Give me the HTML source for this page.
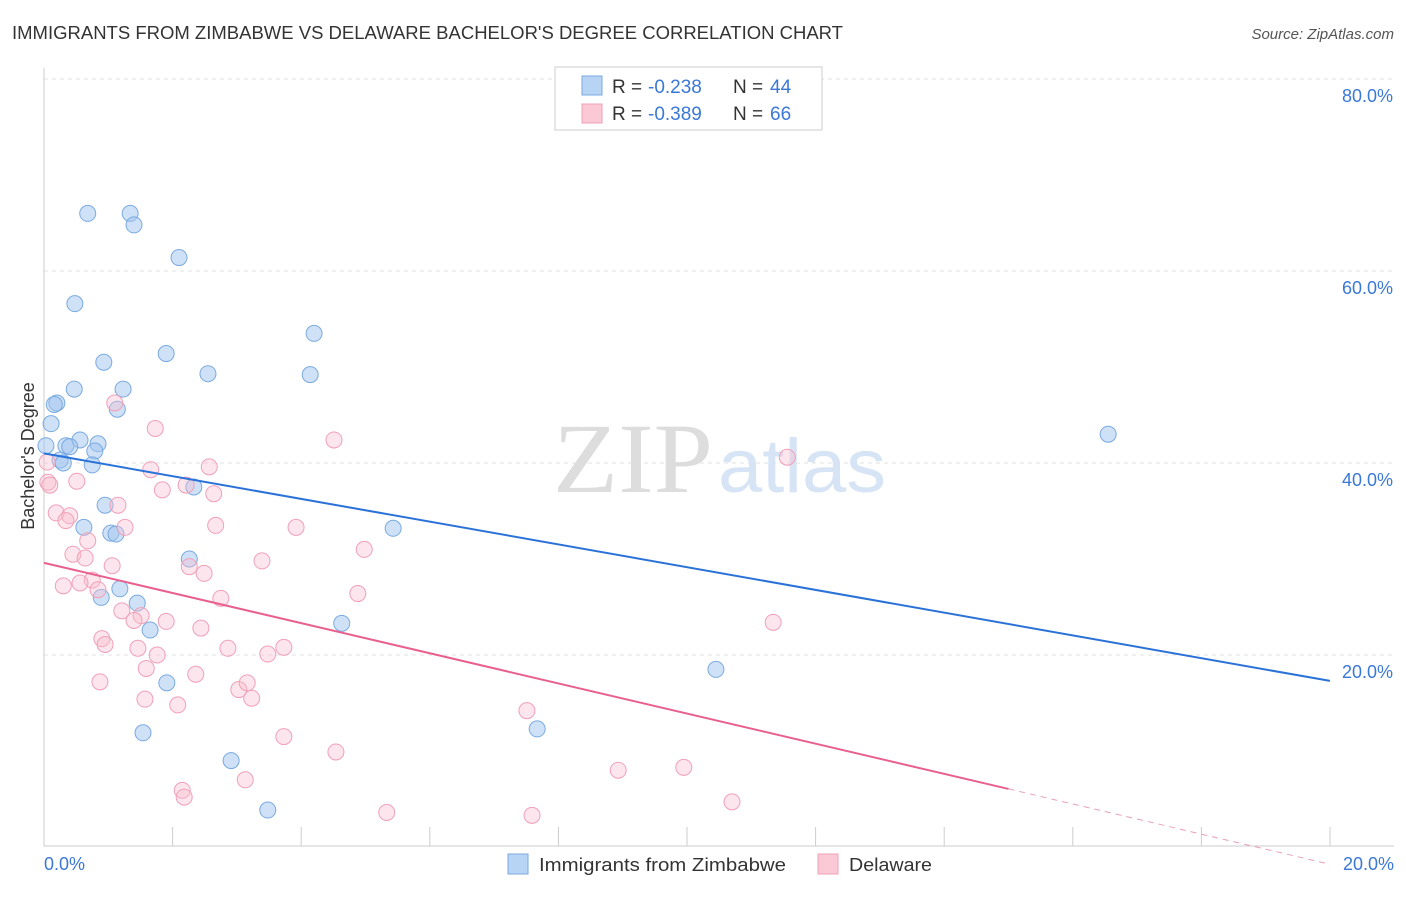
<!DOCTYPE html>
<html><head><meta charset="utf-8"><style>
body{margin:0;background:#fff;font-family:"Liberation Sans",sans-serif;}
</style></head><body>
<svg id="c" width="1406" height="892" xmlns="http://www.w3.org/2000/svg">
<text x="12" y="39" font-size="18" fill="#333" textLength="831" lengthAdjust="spacingAndGlyphs">IMMIGRANTS FROM ZIMBABWE VS DELAWARE BACHELOR'S DEGREE CORRELATION CHART</text>
<text x="1394" y="39" font-size="15" fill="#555" font-style="italic" text-anchor="end">Source: ZipAtlas.com</text>
<g id="grid"></g>
<text x="553" y="492" font-size="100" fill="#ddd" font-family="Liberation Serif" textLength="160" lengthAdjust="spacingAndGlyphs">ZIP</text>
<text x="718" y="492" font-size="76" fill="#d6e4f5" textLength="168" lengthAdjust="spacingAndGlyphs">atlas</text>
<g id="axes"></g>
<text transform="translate(34,456) rotate(-90)" font-size="18" fill="#333" text-anchor="middle">Bachelor's Degree</text>
<g id="marks"></g>
<g>
<rect x="555" y="67" width="267" height="63" fill="#fff" stroke="#ccc"/>
<rect x="582" y="76" width="20" height="19" fill="#b8d4f5" stroke="#7aaae0"/>
<rect x="582" y="104" width="20" height="19" fill="#fbc8d6" stroke="#f0a0b8"/>
<text x="612" y="93" font-size="19" fill="#333">R =</text><text x="648" y="93" font-size="19" fill="#3a78d8">-0.238</text>
<text x="733" y="93" font-size="19" fill="#333">N =</text><text x="770" y="93" font-size="19" fill="#3a78d8">44</text>
<text x="612" y="120" font-size="19" fill="#333">R =</text><text x="648" y="120" font-size="19" fill="#3a78d8">-0.389</text>
<text x="733" y="120" font-size="19" fill="#333">N =</text><text x="770" y="120" font-size="19" fill="#3a78d8">66</text>
</g>
<g>
<rect x="508" y="854" width="20" height="20" fill="#b8d4f5" stroke="#7aaae0"/>
<text x="539" y="871" font-size="18" fill="#333" textLength="247" lengthAdjust="spacingAndGlyphs">Immigrants from Zimbabwe</text>
<rect x="818" y="854" width="20" height="20" fill="#fbc8d6" stroke="#f0a0b8"/>
<text x="849" y="871" font-size="18" fill="#333" textLength="83" lengthAdjust="spacingAndGlyphs">Delaware</text>
</g>
</svg>
<script>
const blueX=[0.68,1.34,1.40,2.10,0.48,1.90,0.93,2.55,4.20,4.14,0.47,1.23,0.20,0.16,1.14,0.11,0.56,0.84,0.34,0.40,0.79,0.25,0.30,0.75,0.03,0.95,0.62,1.04,1.12,5.43,2.26,2.33,1.18,0.89,1.45,1.65,4.63,1.91,1.54,2.91,3.48,7.67,10.45,16.55];
const blueY=[66.0,66.0,64.8,61.4,56.6,51.4,50.5,49.3,53.5,49.2,47.7,47.7,46.25,46.1,45.6,44.1,42.4,42.0,41.8,41.7,41.25,40.3,40.0,39.8,41.8,35.6,33.3,32.7,32.6,33.2,30.0,37.5,26.9,26.0,25.4,22.6,23.3,17.1,11.9,9.0,3.85,12.3,18.5,43.0];
const pinkX=[1.10,1.73,4.51,11.56,1.66,2.57,1.84,2.21,2.64,0.51,0.06,0.09,1.15,0.19,0.40,0.34,1.26,2.67,3.92,0.68,0.45,0.64,4.98,1.06,3.39,2.26,2.49,0.30,0.75,0.84,0.56,2.75,4.88,1.21,1.51,1.40,1.90,2.44,0.90,0.95,1.46,1.76,2.86,3.73,3.48,1.59,2.36,0.87,3.03,3.16,3.23,1.57,2.08,3.73,4.54,7.51,11.34,8.93,9.95,3.13,2.15,2.18,5.33,7.59,10.70,0.05];
const pinkY=[46.25,43.6,42.4,40.6,39.3,39.6,37.2,37.7,36.8,38.1,38.0,37.7,35.6,34.8,34.5,34.0,33.3,33.5,33.3,31.9,30.5,30.1,31.0,29.3,29.8,29.2,28.5,27.2,27.8,26.8,27.5,25.9,26.4,24.6,24.1,23.6,23.5,22.8,21.7,21.1,20.7,20.0,20.7,20.8,20.1,18.6,18.0,17.2,16.4,17.1,15.5,15.4,14.8,11.5,9.9,14.2,23.4,8.0,8.3,7.0,5.9,5.2,3.6,3.3,4.7,40.1];
const blueTrend=[41.0,17.3];
const pinkTrend=[29.6,-1.8];
const pinkSolidEnd=15.0;
const yTicks=[20,40,60,80];
const xTicks=[0,2,4,6,8,10,12,14,16,18,20];
const X=v=>44+v*64.3, Y=v=>847-v*9.6;
const NS="http://www.w3.org/2000/svg";
function mk(t,a,p){const e=document.createElementNS(NS,t);for(const k in a)e.setAttribute(k,a[k]);p.appendChild(e);return e;}
const grid=document.getElementById('grid'),axes=document.getElementById('axes'),marks=document.getElementById('marks');
yTicks.forEach(t=>{
 const l=mk('line',{x1:44,x2:1394,y1:Y(t),y2:Y(t),stroke:'#e2e2e2','stroke-dasharray':'4,4'},grid);
 
 
 const tx=mk('text',{x:1393,y:Y(t)+23,'font-size':18,fill:'#3a78d8','text-anchor':'end'},axes);
 tx.textContent=t.toFixed(1)+'%';
 
 
});
mk('line',{x1:44,x2:44,y1:68,y2:846,stroke:'#ccc'},axes);
mk('line',{x1:44,x2:1394,y1:846,y2:846,stroke:'#ccc'},axes);
xTicks.forEach(t=>{
 const l=mk('line',{x1:X(t),x2:X(t),y1:827,y2:846,stroke:'#ccc'},axes);
 
 
});
[[0,'start',44],[20,'end',1394]].forEach(([t,a,x])=>{
 const tx=mk('text',{x:x,y:870,'font-size':18,fill:'#3a78d8','text-anchor':a},axes);
 tx.textContent=t.toFixed(1)+'%';
 
 
});
blueX.forEach((x,i)=>{
 const c=mk('circle',{cx:X(x),cy:Y(blueY[i]),r:8,fill:'rgba(160,196,240,0.5)',stroke:'#7aaae0','stroke-width':1},marks);
 
 
});
pinkX.forEach((x,i)=>{
 const c=mk('circle',{cx:X(x),cy:Y(pinkY[i]),r:8,fill:'rgba(248,190,208,0.4)',stroke:'#f0a0b8','stroke-width':1},marks);
 
 
});
const bl=mk('line',{x1:X(0),y1:Y(blueTrend[0]),x2:X(20),y2:Y(blueTrend[1]),stroke:'#2b72d8','stroke-width':2},marks);


const py=v=>pinkTrend[0]+(pinkTrend[1]-pinkTrend[0])*v/20;
const pl=mk('line',{x1:X(0),y1:Y(py(0)),x2:X(pinkSolidEnd),y2:Y(py(pinkSolidEnd)),stroke:'#e8608e','stroke-width':2},marks);


const pd=mk('line',{x1:X(pinkSolidEnd),y1:Y(py(pinkSolidEnd)),x2:X(20),y2:Y(py(20)),stroke:'#e8a0b8','stroke-width':1,'stroke-dasharray':'6,5'},marks);


</script>
</body></html>
